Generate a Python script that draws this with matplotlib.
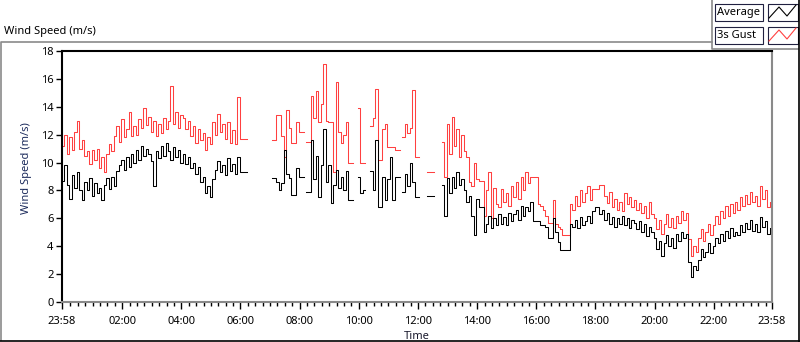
import numpy as np
import matplotlib
matplotlib.use('Agg')
import matplotlib.pyplot as plt
from matplotlib.patches import Rectangle

nan = np.nan

# 5-minute samples starting at 23:58 (minutes relative to midnight)
step_min = 5
start_min = -2

series_names = ['Average', '3s Gust']
series_colors = ['#000000', '#ff4040']

gust = [
    # 23:58 - 06:10
    11.2, 12.0, 10.6, 11.8, 10.9, 12.2, 13.0, 11.0, 11.6, 10.5,
    10.8, 9.9, 10.9, 10.2, 11.0, 9.6, 10.4, 9.3, 10.6, 11.3,
    10.8, 11.9, 12.6, 11.5, 13.1, 11.8, 12.4, 13.6, 11.9, 12.6,
    12.0, 13.1, 12.5, 13.9, 12.7, 13.3, 12.2, 13.0, 11.9, 12.8,
    12.1, 13.2, 12.4, 13.0, 15.5, 12.8, 13.6, 12.5, 13.4, 13.2,
    12.4, 13.0, 11.9, 12.6, 11.4, 12.4, 11.6, 12.1, 10.9, 11.8,
    11.3, 12.9, 12.0, 13.5, 12.2, 12.8, 11.7, 12.9, 11.4, 12.3,
    11.3, 14.7, 11.7, 11.7, 11.7,
    # gap
    nan, nan, nan, nan, nan, nan, nan, nan, nan, nan,
    # 07:03 - 12:43
    11.6, 11.6, 13.4, 13.4, 11.9, 10.4, 13.8, 12.5, 11.4, 11.4,
    12.9, 12.2, 12.2, nan, 11.5, 11.5, 14.8, 13.2, 15.1, 12.9,
    14.2, 17.1, 13.0, 12.9, 12.9, 9.3, 15.8, 12.2, 11.4, 12.0,
    12.9, 10.0, 10.0, nan, nan, 13.9, 10.0, 10.0, nan, nan,
    12.6, 13.2, 15.3, 10.2, 10.2, 12.4, 12.8, 11.1, 11.1, 11.1,
    10.9, 10.9, nan, 11.8, 12.8, 12.1, 12.5, 15.2, 10.4, 10.4,
    nan, nan, nan, 9.3, 9.3, 9.3, nan, nan, nan,
    # 12:48 - 23:53
    11.5, 9.0, 12.8, 10.6, 13.3, 11.2, 12.4, 10.4, 12.0, 10.8,
    10.4, 8.6, 8.3, 10.0, 8.8, 8.7, 8.7, 6.2, 8.0, 9.3,
    6.0, 8.2, 7.0, 6.8, 8.1, 7.2, 7.8, 6.9, 8.3, 7.5,
    8.6, 7.4, 9.0, 8.0, 9.3, 8.5, 9.0, 9.0, 9.0, 7.0,
    6.9, 6.6, 6.2, 5.7, 5.7, 7.3, 5.6, 5.4, 5.2, 4.8,
    4.8, 4.8, 7.0, 6.6, 7.6, 6.9, 8.0, 7.2, 7.8, 8.3,
    7.3, 8.1, 8.1, 8.1, 8.4, 8.4, 7.6, 7.1, 7.9, 6.8,
    7.4, 6.6, 7.2, 6.5, 7.8, 7.0, 7.5, 6.8, 7.3, 6.6,
    7.1, 6.4, 6.9, 6.0, 7.2, 6.3, 6.0, 5.2, 5.9, 4.9,
    5.6, 6.3, 5.4, 6.0, 5.3, 6.2, 5.7, 6.5, 5.9, 6.4,
    4.5, 3.3, 4.0, 3.6, 4.6, 5.2, 4.4, 5.0, 5.6, 4.8,
    5.5, 6.2, 5.6, 6.5, 6.0, 6.9, 6.2, 7.0, 6.4, 7.2,
    6.6, 7.5, 6.9, 7.7, 7.0, 7.9, 7.2, 7.6, 6.9, 8.3,
    7.4, 8.0, 6.8, 7.2,
]

average = [
    8.7, 9.8, 8.4, 7.4, 9.1, 8.2, 9.3, 8.0, 7.3, 8.6,
    8.0, 8.9, 7.6, 8.5, 7.8, 8.2, 7.3, 8.4, 8.9, 8.1,
    9.0, 8.3, 9.4, 9.8, 10.2, 9.5, 10.4, 9.7, 10.6, 10.0,
    10.9, 10.2, 11.2, 10.5, 11.0, 10.6, 10.1, 8.3, 10.8, 10.3,
    11.2, 10.5, 11.4, 10.8, 10.2, 11.1, 10.4, 10.9, 10.0, 10.6,
    9.9, 10.4, 9.6, 10.0, 9.2, 9.7, 8.6, 9.0, 7.8, 8.3,
    7.5, 8.8, 9.5, 10.1, 9.3, 9.8, 9.1, 10.3, 9.4, 9.9,
    9.2, 10.4, 9.3, 9.3, 9.3,
    nan, nan, nan, nan, nan, nan, nan, nan, nan, nan,
    8.9, 8.9, 8.6, 8.0, 8.5, 10.9, 9.2, 8.9, 7.7, 7.7,
    9.6, 9.0, 9.0, nan, 7.9, 7.9, 11.6, 8.8, 10.5, 7.5,
    9.8, 12.4, 8.6, 9.8, 7.1, 8.4, 9.5, 8.2, 9.0, 8.0,
    9.4, 7.3, 7.3, nan, nan, 9.0, 7.8, 8.0, nan, nan,
    9.4, 8.0, 11.6, 6.8, 6.8, 9.0, 7.3, 8.8, 10.4, 7.3,
    9.0, 9.0, nan, 7.9, 9.2, 8.3, 10.0, 8.6, 7.5, 7.5,
    nan, nan, nan, 7.6, 7.6, 7.6, nan, nan, nan,
    8.4, 6.2, 8.9, 7.8, 9.0, 8.2, 9.3, 8.4, 8.8, 8.0,
    7.2, 7.6, 6.2, 4.8, 7.4, 6.8, 6.8, 5.0, 5.6, 6.2,
    5.3, 6.0, 5.5, 6.3, 5.6, 6.1, 5.5, 6.4, 5.8, 6.3,
    6.6, 5.9, 6.9, 6.2, 6.8, 6.5, 7.2, 5.8, 5.8, 5.8,
    5.5, 5.5, 5.4, 4.6, 4.6, 6.0, 5.0, 4.3, 3.7, 3.7,
    3.7, 3.7, 5.6, 5.4, 5.9, 5.3, 6.1, 5.5, 5.8, 6.2,
    5.7, 6.5, 6.8, 6.8, 6.3, 6.6, 5.9, 6.4, 5.6, 6.1,
    5.4, 6.0, 5.6, 6.2, 5.5, 6.0, 5.3, 5.9, 5.7, 5.2,
    5.8, 5.0, 5.6, 4.7, 5.4, 5.0, 4.6, 3.8, 4.4, 3.3,
    4.2, 4.8, 4.0, 4.6, 3.9, 4.9, 4.4, 5.0, 4.6, 4.9,
    2.9, 1.8, 2.6, 2.3, 3.0, 3.8, 3.2, 3.6, 4.2, 3.5,
    4.0, 4.6, 4.2, 4.9, 4.4, 5.1, 4.6, 5.3, 4.7, 5.0,
    4.8, 5.5, 5.0, 5.7, 5.2, 5.9, 5.1, 5.6, 5.0, 6.1,
    5.4, 5.8, 4.9, 5.3,
]

xtick_pos = [-2, 120, 240, 360, 480, 600, 720, 840, 960, 1080, 1200, 1320, 1438]
xtick_labels = ['23:58', '02:00', '04:00', '06:00', '08:00', '10:00', '12:00',
                '14:00', '16:00', '18:00', '20:00', '22:00', '23:58']
yticks = [0, 2, 4, 6, 8, 10, 12, 14, 16, 18]

t = start_min + step_min * np.arange(len(gust))

plt.rcParams['font.family'] = ['Noto Sans', 'DejaVu Sans']
plt.rcParams['font.size'] = 8

W, H = 800, 342
fig = plt.figure(figsize=(W / 100, H / 100), dpi=100)
ax = fig.add_axes([62 / W, 1 - 302 / H, 710 / W, 251 / H])

ax.plot(t, gust, color=series_colors[1], lw=0.75, drawstyle='steps-post')
ax.plot(t, average, color=series_colors[0], lw=0.75, drawstyle='steps-post')

ax.set_xlim(-2, 1438)
ax.set_ylim(0, 18)
ax.set_yticks(yticks)
ax.set_xticks(xtick_pos)
ax.set_xticklabels(xtick_labels)
minor = [m for m in range(15, 1440, 15) if m % 120 != 0]
ax.set_xticks(minor, minor=True)

ax.tick_params(axis='y', direction='out', length=4, width=1, pad=2, colors='black')
ax.tick_params(axis='x', which='major', direction='out', length=5, width=1, pad=5)
ax.tick_params(axis='x', which='minor', direction='out', length=3, width=1)

for side in ['left', 'top']:
    ax.spines[side].set_color('black')
    ax.spines[side].set_linewidth(1.5)
for side in ['right', 'bottom']:
    ax.spines[side].set_color('#8a8a8a')
    ax.spines[side].set_linewidth(1.5)

ax.set_xlabel('Time', labelpad=3, color='#1a1a2e')
ax.set_ylabel('Wind Speed (m/s)', color='#1c2b5c')
ax.yaxis.set_label_coords(-0.042, 0.535)

fig.text(4 / W, 1 - 31.5 / H, 'Wind Speed (m/s)', ha='left', va='center', color='black')

# panel frame and legend, drawn in pixel coords
ov = fig.add_axes([0, 0, 1, 1])
ov.set_xlim(0, W)
ov.set_ylim(H, 0)
ov.axis('off')
ov.patch.set_alpha(0)

gray = '#8a8a8a'
ov.plot([0.5, 0.5, 712], [340, 42, 42], color=gray, lw=1.2)
ov.plot([712, 712, 798], [0, 49, 49], color=gray, lw=1.2)
ov.plot([799, 799], [0, H], color='black', lw=1.2)
ov.plot([0, W], [340.5, 340.5], color='black', lw=1.2)

for i, (name, col) in enumerate(zip(series_names, series_colors)):
    y0 = 3.5 + i * 23
    ov.add_patch(Rectangle((715, y0), 48, 17.5, fill=False, ec='#202040', lw=0.8))
    ov.add_patch(Rectangle((767.5, y0), 30, 17.5, fill=False, ec='#202040', lw=0.8))
    ov.text(717, y0 + 8.5, name, ha='left', va='center', color='black')
    ov.plot([769, 779, 787, 796], [y0 + 14.5, y0 + 3.5, y0 + 12.5, y0 + 1.5], color=col, lw=0.8)

fig.savefig('out.png', dpi=100)
